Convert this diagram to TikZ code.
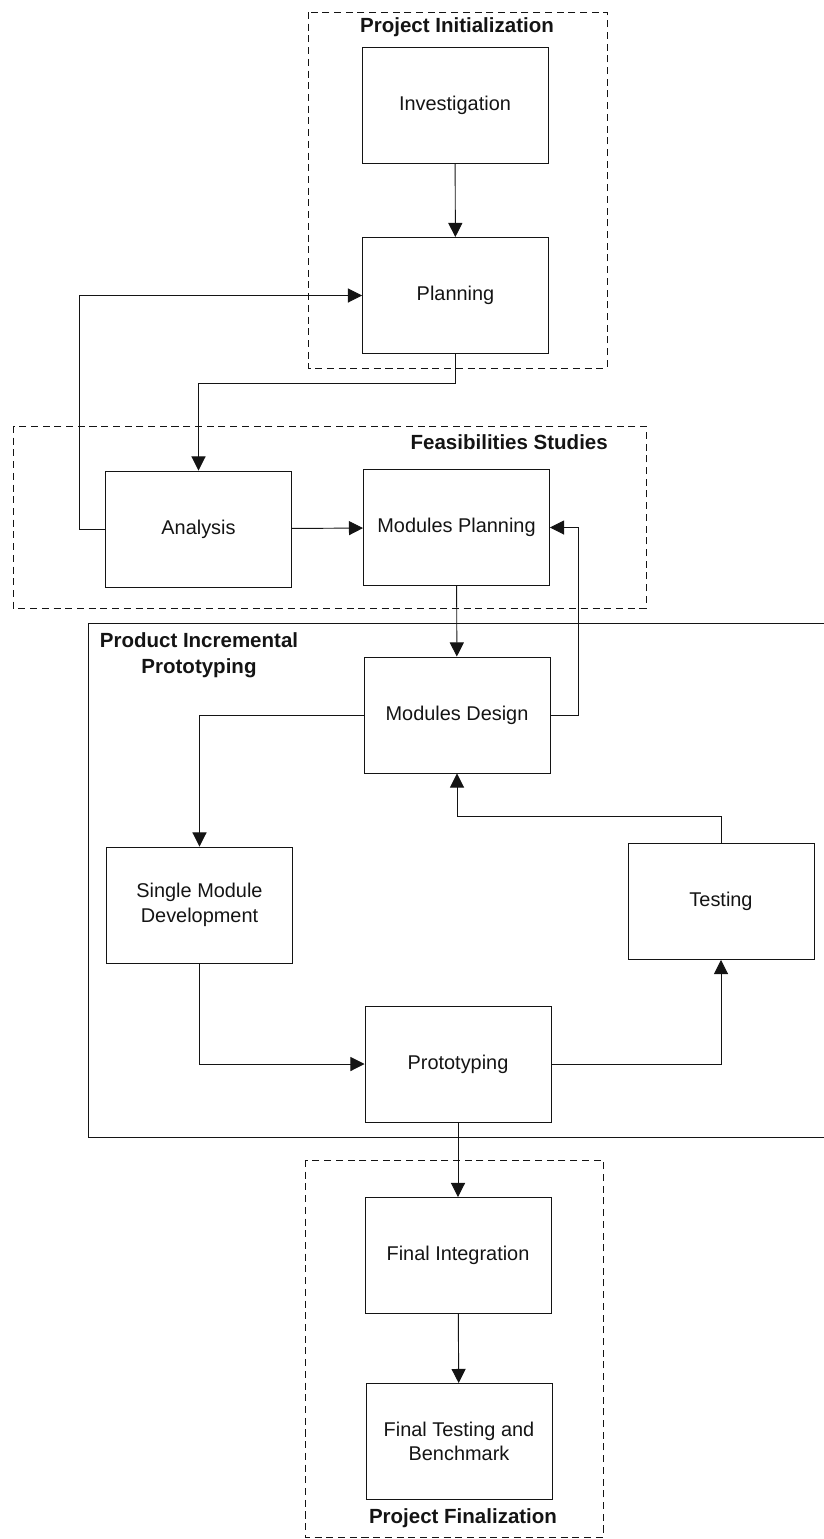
\documentclass[tikz,border=0pt]{standalone}
\usepackage{fontspec}
\setmainfont{Liberation Sans}
\usetikzlibrary{arrows.meta,positioning,calc}
\definecolor{Ink}{HTML}{141414}
\newcommand{\PhaseBox}[4]{%
  \node[phasebox] (#1) at (#2,#3) {#4};%
}
\tikzset{
  phasebox/.style={draw=Ink,line width=0.8pt,minimum width=5.58cm,minimum height=3.48cm,
    align=center,inner sep=2pt,text=Ink,font=\fontsize{17}{21}\selectfont},
  flow/.style={draw=Ink,line width=0.8pt,-{Triangle[length=12pt,width=12pt]}},
  groupline/.style={draw=Ink,line width=0.8pt,dash pattern=on 6pt off 4pt},
  grouptitle/.style={font=\fontsize{17.5}{22}\selectfont\bfseries,text=Ink,inner sep=0pt},
}

\begin{document}
\begin{tikzpicture}[x=0.03cm,y=-0.03cm]
\useasboundingbox (0,0) rectangle (824,1539);
% phase frames
\draw[groupline] (308,12) rectangle (607,368);
\draw[groupline] (13,426) rectangle (646,608);
\draw[Ink,line width=0.8pt] (824,623) -- (88,623) -- (88,1137) -- (824,1137);
\draw[groupline] (305,1160) rectangle (603,1537);
\node[grouptitle] (tInit) at (457,27) {Project Initialization};
\node[grouptitle,anchor=east] (tFeas) at (608,442) {Feasibilities Studies};
\node[grouptitle,align=center] (tProd) at (199,655) {Product Incremental\\Prototyping};
\node[grouptitle] (tFinal) at (463,1518) {Project Finalization};
% steps
\PhaseBox{inv}{455}{105}{Investigation}
\PhaseBox{plan}{455.5}{295.5}{Planning}
\PhaseBox{ana}{198.5}{529}{Analysis}
\PhaseBox{mplan}{456.5}{527.5}{Modules Planning}
\PhaseBox{mdes}{457}{715}{Modules Design}
\PhaseBox{single}{199.5}{905}{Single Module\\Development}
\PhaseBox{test}{721}{901.5}{Testing}
\PhaseBox{proto}{458}{1064}{Prototyping}
\PhaseBox{finint}{458}{1255.5}{Final Integration}
\PhaseBox{fintest}{459}{1441.5}{Final Testing and\\Benchmark}
% straight links
\foreach \a/\b in {inv/plan,mplan/mdes,proto/finint,finint/fintest} {
  \draw[flow] (\a) -- (\b);
}
\draw[flow] (ana) -- (mplan);
% elbow links
\draw[flow] (plan.south) -- ++(0,29) -| (ana.north);
\draw[flow] (ana.west) -- ++(-26,0) |- (plan.west);
\draw[flow] (mdes.east) -- ++(28,0) |- (mplan.east);
\draw[flow] (mdes.west) -| (single.north);
\draw[flow] (single.south) |- (proto.west);
\draw[flow] (proto.east) -| (test.south);
\draw[flow] (test.north) -- ++(0,-27) -| (mdes.south);
\end{tikzpicture}
\end{document}
